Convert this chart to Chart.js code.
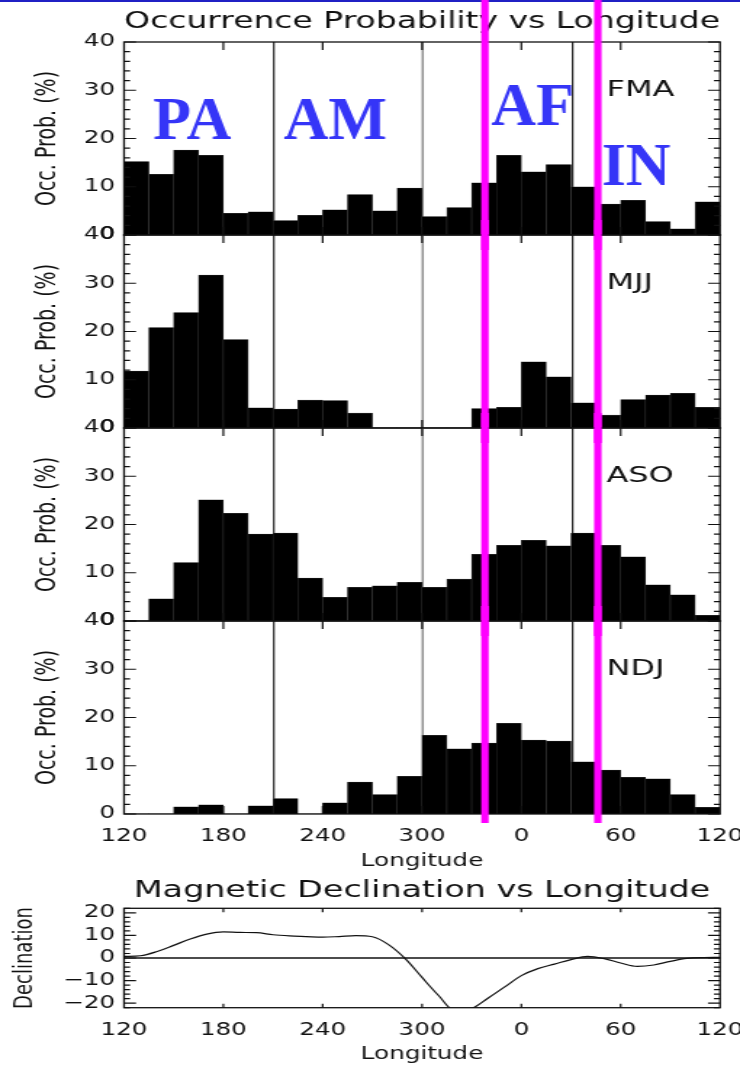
<!DOCTYPE html>
<html>
<head>
<meta charset="utf-8">
<script src="https://cdn.jsdelivr.net/npm/chart.js@4.4.1/dist/chart.umd.min.js"></script>
<style>
html,body{margin:0;padding:0;background:#fff;}
#wrap{position:relative;width:740px;height:1074px;overflow:hidden;background:#fff;}
#wrap canvas{position:absolute;left:0;}
</style>
</head>
<body>
<div id="wrap">
<canvas id="p1" width="510" height="250" style="top:0px;width:740px;height:250px"></canvas>
<canvas id="p2" width="510" height="223" style="top:220px;width:740px;height:223px"></canvas>
<canvas id="p3" width="510" height="223" style="top:413px;width:740px;height:223px"></canvas>
<canvas id="p4" width="510" height="274" style="top:606px;width:740px;height:274px"></canvas>
<canvas id="p5" width="510" height="204" style="top:870px;width:740px;height:204px"></canvas>
</div>
<script>
// ---------------- data ----------------
const binStarts = [120,135,150,165,180,195,210,225,240,255,270,285,300,315,330,345,0,15,30,45,60,75,90,105];
const FMA = [15.2,12.6,17.6,16.5,4.5,4.8,3.0,4.1,5.2,8.4,5.0,9.7,3.8,5.7,10.8,16.5,13.1,14.6,10.0,6.4,7.2,2.8,1.3,6.9];
const MJJ = [11.8,20.8,23.9,31.7,18.3,4.2,3.9,5.8,5.7,3.1,0,0,0,0,4.0,4.3,13.7,10.6,5.2,2.7,5.9,6.8,7.2,4.3];
const ASO = [0,4.6,12.1,25.1,22.3,18.0,18.2,8.9,4.9,7.0,7.3,8.0,7.0,8.7,13.8,15.7,16.7,15.6,18.2,15.7,13.3,7.5,5.4,1.2];
const NDJ = [0,0,1.5,1.9,0,1.7,3.2,0,2.3,6.6,4.0,7.8,16.3,13.5,14.7,18.8,15.3,15.1,10.8,9.1,7.6,7.3,4.0,1.4];
const seasons = ['FMA','MJJ','ASO','NDJ'];
const lonTickLabels = ['120','180','240','300','0','60','120'];
const refLineLon = [210.5, 300.4, 391];
const refLineColor = ['#111111','#8e8e8e','#111111'];
const regionEdgeLon = [338, 406.2];
const regionLabels = ['PA','AM','AF','IN'];
const regionLabelLon = [137.6, 216.4, 341.8, 408.5];
const regionLabelVal = [20, 20, 22.9, 10.4];
const seasonLabelLon = 411.5;
const seasonLabelVal = 30;
const declLon = [120,130,140,150,160,170,180,190,200,210,220,230,240,250,260,270,280,290,300,310,320,330,340,350,360,370,380,390,400,410,420,430,440,450,460,470,480];
const declVal = [0.7,1.0,2.9,5.6,8.4,10.6,11.6,11.3,11.2,10.3,9.8,9.5,9.2,9.5,9.9,9.4,5.8,-0.4,-8.6,-16.6,-23.5,-22.4,-17.7,-12.8,-7.8,-4.7,-2.7,-0.7,0.7,-0.3,-2.2,-3.7,-3.1,-1.5,-0.2,0.2,0.3];

// ---------------- style / layout ----------------
const S = 740 / 510;               // horizontal stretch of the canvases
const FONT = "'DejaVu Sans', 'Liberation Sans', sans-serif";
const INK = '#111111';
const Y_AXIS_W = 124 / S;
const RIGHT_PAD = 510 - 720 / S;

function lonLabel(v) { const i = Math.round((v - 120) / 60); return lonTickLabels[i] !== undefined ? lonTickLabels[i] : ''; }
function signed(v) { return v < 0 ? '\u2212' + Math.abs(v) : String(v); }
function noPad(s) { s.paddingLeft = 0; s.paddingRight = 0; s.paddingTop = 0; s.paddingBottom = 0; }

const deco = {
  id: 'deco',
  beforeDatasetsDraw(chart, args, o) {
    const { ctx, chartArea: a } = chart;
    const xs = chart.scales.xl, ys = chart.scales.y;
    ctx.save();
    if (o.refLines) {
      refLineLon.forEach((lon, i) => {
        const x = xs.getPixelForValue(lon);
        ctx.strokeStyle = refLineColor[i];
        ctx.lineWidth = i === 1 ? 1.5 : 1.1;
        ctx.beginPath(); ctx.moveTo(x, a.top); ctx.lineTo(x, a.bottom); ctx.stroke();
      });
    }
    if (o.zeroLine) {
      const y = ys.getPixelForValue(0);
      ctx.strokeStyle = INK; ctx.lineWidth = 1.4;
      ctx.beginPath(); ctx.moveTo(a.left, y); ctx.lineTo(a.right, y); ctx.stroke();
    }
    ctx.restore();
  },
  afterDatasetsDraw(chart, args, o) {
    const { ctx, chartArea: a } = chart;
    const xs = chart.scales.xl, ys = chart.scales.y;
    ctx.save();
    ctx.strokeStyle = INK; ctx.lineWidth = 1.3;
    ctx.strokeRect(a.left, a.top, a.right - a.left, a.bottom - a.top);
    ctx.lineWidth = 1.2;
    const start = Math.ceil(ys.min / o.yMinor) * o.yMinor;
    for (let v = start; v <= ys.max + 1e-6; v += o.yMinor) {
      const major = Math.abs(v % 10) < 1e-6;
      const len = major ? 8.3 : 4.2;
      const y = ys.getPixelForValue(v);
      ctx.beginPath();
      ctx.moveTo(a.left, y); ctx.lineTo(a.left + len, y);
      ctx.moveTo(a.right, y); ctx.lineTo(a.right - len, y);
      ctx.stroke();
    }
    xs.ticks.forEach(t => {
      if (t.value <= xs.min || t.value >= xs.max) return;
      const x = xs.getPixelForValue(t.value);
      ctx.beginPath();
      ctx.moveTo(x, a.top); ctx.lineTo(x, a.top + o.xLen);
      ctx.moveTo(x, a.bottom); ctx.lineTo(x, a.bottom - o.xLen);
      ctx.stroke();
    });
    if (o.season) {
      ctx.fillStyle = INK;
      ctx.font = '22px ' + FONT;
      ctx.textAlign = 'left'; ctx.textBaseline = 'middle';
      ctx.fillText(o.season, xs.getPixelForValue(seasonLabelLon), ys.getPixelForValue(seasonLabelVal));
    }
    ctx.restore();
  },
  afterDraw(chart, args, o) {
    const { ctx, chartArea: a } = chart;
    const xs = chart.scales.xl, ys = chart.scales.y;
    ctx.save();
    if (o.topBar) { ctx.fillStyle = '#2020c4'; ctx.fillRect(0, 0, chart.width, 2); }
    if (o.edges) {
      ctx.fillStyle = '#ff00ff';
      const bottom = o.edgeToArea ? a.bottom + 9 : chart.height;
      regionEdgeLon.forEach(lon => {
        const x = xs.getPixelForValue(lon);
        ctx.fillRect(x - 2.55, 0, 5.1, bottom);
      });
    }
    if (o.labels) {
      ctx.scale(1 / S, 1);
      ctx.font = "bold 62px 'Liberation Serif', 'DejaVu Serif', serif";
      ctx.fillStyle = '#3535f7';
      ctx.textAlign = 'left'; ctx.textBaseline = 'alphabetic';
      regionLabels.forEach((t, i) => {
        ctx.fillText(t, xs.getPixelForValue(regionLabelLon[i]) * S, ys.getPixelForValue(regionLabelVal[i]));
      });
    }
    ctx.restore();
  }
};

function panel(id, values, season, cfg) {
  return new Chart(document.getElementById(id), {
    type: 'bar',
    data: {
      labels: binStarts.map(String),
      datasets: [{
        data: values, xAxisID: 'x', yAxisID: 'y',
        backgroundColor: '#000000', borderColor: '#3a3a3a',
        borderWidth: c => (c.raw > 0 ? 0.5 : 0), borderSkipped: 'start',
        barPercentage: 1, categoryPercentage: 1
      }]
    },
    options: {
      responsive: false, animation: false, devicePixelRatio: 1, events: [],
      layout: { padding: { left: 0, right: RIGHT_PAD, top: 0, bottom: 0 } },
      plugins: {
        legend: { display: false }, tooltip: { enabled: false }, title: { display: false },
        deco: { refLines: true, season: season, edges: true, edgeToArea: !!cfg.last, labels: !!cfg.first, topBar: !!cfg.first, yMinor: 2, xLen: 8 }
      },
      scales: {
        x: { type: 'category', display: false, offset: true },
        xt: {
          type: 'linear', position: 'top', min: 120, max: 480, offset: false,
          ticks: { display: false }, grid: { display: false, drawTicks: false, offset: false }, border: { display: false },
          title: { display: !!cfg.title, text: cfg.title || '', color: INK, font: { family: FONT, size: 23, lineHeight: 1.2 }, padding: { top: 8.2, bottom: 0 } },
          afterFit(s) { s.height = cfg.topH; noPad(s); }
        },
        xl: {
          type: 'linear', position: 'bottom', min: 120, max: 480, offset: false,
          ticks: { display: !!cfg.last, stepSize: 60, autoSkip: false, maxRotation: 0, minRotation: 0, padding: 12.8, color: INK, font: { family: FONT, size: 17, lineHeight: 1.2 }, callback: v => lonLabel(v) },
          grid: { display: false, drawTicks: false, offset: false }, border: { display: false },
          title: { display: !!cfg.last, text: 'Longitude', color: INK, font: { family: FONT, size: 17, lineHeight: 1.2 }, padding: { top: 0, bottom: 7.8 } },
          afterFit(s) { s.height = cfg.botH; noPad(s); }
        },
        y: {
          type: 'linear', position: 'left', min: 0, max: 40,
          ticks: { stepSize: 10, autoSkip: false, padding: 6.2, color: INK, font: { family: FONT, size: 17, lineHeight: 1.2 } },
          grid: { display: false, drawTicks: false }, border: { display: false },
          title: { display: true, text: 'Occ. Prob. (%)', color: INK, font: { family: FONT, size: 19, lineHeight: 1.2 }, padding: { top: 22, bottom: 0 } },
          afterFit(s) { s.width = Y_AXIS_W; noPad(s); }
        }
      }
    },
    plugins: [deco]
  });
}

panel('p1', FMA, seasons[0], { first: true, title: 'Occurrence Probability vs Longitude', topH: 42, botH: 15 });
panel('p2', MJJ, seasons[1], { topH: 15, botH: 15 });
panel('p3', ASO, seasons[2], { topH: 15, botH: 15 });
panel('p4', NDJ, seasons[3], { last: true, topH: 15, botH: 66 });

new Chart(document.getElementById('p5'), {
  type: 'line',
  data: {
    datasets: [{
      data: declLon.map((x, i) => ({ x: x, y: declVal[i] })),
      xAxisID: 'xl', yAxisID: 'y',
      borderColor: INK, borderWidth: 1.2, pointRadius: 0, fill: false,
      cubicInterpolationMode: 'monotone'
    }]
  },
  options: {
    responsive: false, animation: false, devicePixelRatio: 1, events: [],
    layout: { padding: { left: 0, right: RIGHT_PAD, top: 0, bottom: 0 } },
    plugins: {
      legend: { display: false }, tooltip: { enabled: false }, title: { display: false },
      deco: { refLines: false, zeroLine: true, edges: false, labels: false, topBar: false, yMinor: 2, xLen: 4 }
    },
    scales: {
      xt: {
        type: 'linear', position: 'top', min: 120, max: 480, offset: false,
        ticks: { display: false }, grid: { display: false, drawTicks: false }, border: { display: false },
        title: { display: true, text: 'Magnetic Declination vs Longitude', color: INK, font: { family: FONT, size: 23, lineHeight: 1.2 }, padding: { top: 7.2, bottom: 0 } },
        afterFit(s) { s.height = 38.3; noPad(s); }
      },
      xl: {
        type: 'linear', position: 'bottom', min: 120, max: 480, offset: false,
        ticks: { stepSize: 60, autoSkip: false, maxRotation: 0, minRotation: 0, padding: 12.9, color: INK, font: { family: FONT, size: 17, lineHeight: 1.2 }, callback: v => lonLabel(v) },
        grid: { display: false, drawTicks: false }, border: { display: false },
        title: { display: true, text: 'Longitude', color: INK, font: { family: FONT, size: 17, lineHeight: 1.2 }, padding: { top: 0, bottom: 9.3 } },
        afterFit(s) { s.height = 66.3; noPad(s); }
      },
      y: {
        type: 'linear', position: 'left', min: -22, max: 22,
        ticks: { stepSize: 10, includeBounds: false, autoSkip: false, padding: 6.2, color: INK, font: { family: FONT, size: 17, lineHeight: 1.2 }, callback: v => signed(v) },
        grid: { display: false, drawTicks: false }, border: { display: false },
        title: { display: true, text: 'Declination', color: INK, font: { family: FONT, size: 18, lineHeight: 1.2 }, padding: { top: 6.4, bottom: 0 } },
        afterFit(s) { s.width = Y_AXIS_W; noPad(s); }
      }
    }
  },
  plugins: [deco]
});
</script>
</body>
</html>
